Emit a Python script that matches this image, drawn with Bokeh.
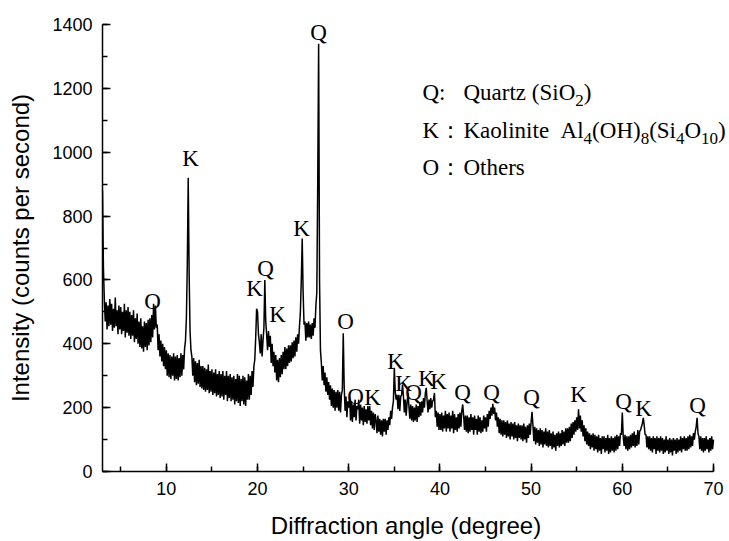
import numpy as np
from bokeh.plotting import figure
from bokeh.models import (ColumnDataSource, LabelSet, Label, Range1d,
                          SingleIntervalTicker)
from bokeh.embed import file_html
from bokeh.resources import INLINE

# Diffraction angle grid (2-theta, degrees), 0.1 degree step
angle_start, angle_step = 3.0, 0.1

# Measured intensity (counts per second), one row per degree
intensity = [
    880, 640, 540, 470, 530, 445, 520, 455, 540, 460,   # 3
    525, 440, 510, 450, 545, 455, 505, 430, 520, 445,   # 4
    515, 430, 500, 440, 525, 420, 505, 435, 515, 425,   # 5
    500, 415, 490, 425, 505, 405, 480, 415, 495, 400,   # 6
    470, 390, 480, 385, 455, 375, 470, 390, 465, 380,   # 7
    475, 395, 480, 405, 490, 420, 525, 445, 520, 450,   # 8
    460, 380, 430, 360, 410, 345, 400, 330, 390, 320,   # 9
    380, 300, 370, 295, 365, 290, 360, 300, 370, 285,   # 10
    360, 290, 365, 285, 355, 295, 370, 300, 365, 320,   # 11
    385, 410, 480, 650, 920, 620, 440, 380, 360, 300,   # 12
    355, 280, 345, 270, 340, 275, 350, 265, 330, 260,   # 13
    330, 255, 325, 250, 320, 255, 335, 245, 315, 250,   # 14
    320, 240, 310, 245, 320, 235, 305, 240, 315, 230,   # 15
    305, 235, 315, 225, 300, 240, 315, 220, 300, 230,   # 16
    305, 220, 295, 225, 300, 210, 290, 220, 305, 215,   # 17
    300, 205, 290, 220, 300, 210, 295, 205, 285, 225,   # 18
    305, 225, 300, 240, 315, 265, 330, 350, 420, 510,   # 19
    500, 430, 405, 370, 430, 360, 410, 450, 600, 470,   # 20
    430, 380, 440, 390, 425, 340, 400, 330, 375, 310,   # 21
    365, 285, 350, 280, 355, 295, 365, 305, 375, 320,   # 22
    390, 320, 385, 330, 395, 340, 395, 345, 405, 355,   # 23
    410, 360, 420, 375, 430, 400, 455, 500, 600, 730,   # 24
    560, 460, 470, 410, 465, 420, 470, 420, 460, 415,   # 25
    465, 425, 480, 450, 520, 560, 900, 1340, 600, 380,  # 26
    340, 285, 330, 270, 310, 250, 295, 240, 280, 225,   # 27
    270, 205, 260, 200, 255, 190, 250, 200, 255, 190,   # 28
    250, 185, 240, 255, 433, 270, 190, 235, 170, 220,   # 29
    200, 235, 160, 220, 155, 210, 170, 225, 160, 205,   # 30
    195, 225, 150, 210, 160, 200, 145, 205, 155, 195,   # 31
    150, 205, 160, 205, 145, 190, 135, 185, 130, 180,   # 32
    160, 120, 175, 125, 165, 115, 160, 110, 165, 125,   # 33
    165, 115, 160, 130, 170, 145, 190, 165, 200, 220,   # 34
    325, 250, 225, 240, 195, 240, 190, 235, 240, 272,   # 35
    235, 185, 225, 175, 215, 246, 205, 165, 210, 160,   # 36
    205, 155, 200, 160, 210, 155, 205, 170, 215, 175,   # 37
    220, 185, 230, 200, 245, 262, 220, 185, 225, 195,   # 38
    230, 200, 220, 225, 246, 170, 190, 140, 185, 130,   # 39
    180, 130, 185, 125, 175, 135, 190, 125, 180, 135,   # 40
    185, 125, 175, 135, 190, 120, 180, 130, 170, 125,   # 41
    180, 135, 185, 140, 190, 210, 175, 130, 175, 125,   # 42
    175, 120, 170, 125, 180, 130, 170, 115, 175, 130,   # 43
    165, 115, 175, 125, 170, 120, 160, 125, 175, 135,   # 44
    170, 125, 180, 140, 190, 165, 200, 175, 212, 180,   # 45
    200, 160, 185, 140, 170, 120, 165, 115, 160, 110,   # 46
    160, 115, 155, 105, 160, 110, 150, 100, 155, 110,   # 47
    150, 100, 155, 105, 145, 95, 150, 105, 145, 100,    # 48
    145, 95, 150, 100, 140, 90, 145, 105, 150, 115,     # 49
    155, 187, 145, 95, 140, 85, 135, 90, 130, 80,       # 50
    135, 85, 130, 75, 125, 85, 135, 80, 125, 75,        # 51
    130, 80, 120, 70, 125, 75, 115, 65, 120, 80,        # 52
    125, 75, 120, 80, 130, 85, 125, 80, 135, 90,        # 53
    135, 90, 140, 95, 150, 105, 155, 115, 160, 125,     # 54
    170, 130, 195, 135, 175, 125, 160, 110, 145, 95,    # 55
    135, 85, 125, 80, 120, 70, 115, 75, 120, 65,        # 56
    115, 70, 110, 60, 115, 65, 105, 55, 110, 70,        # 57
    110, 60, 105, 65, 115, 55, 105, 60, 110, 65,        # 58
    105, 60, 110, 65, 115, 70, 110, 80, 120, 115,       # 59
    185, 110, 80, 115, 70, 110, 65, 110, 70, 115,       # 60
    75, 120, 80, 125, 75, 115, 80, 130, 85, 125,        # 61
    130, 140, 150, 168, 145, 115, 115, 75, 110, 70,     # 62
    110, 65, 105, 60, 110, 70, 105, 55, 110, 65,        # 63
    105, 60, 110, 65, 105, 55, 100, 60, 110, 65,        # 64
    100, 55, 105, 60, 100, 50, 105, 65, 100, 55,        # 65
    105, 60, 100, 65, 110, 60, 105, 70, 110, 65,        # 66
    105, 65, 110, 70, 115, 75, 110, 80, 120, 100,       # 67
    125, 140, 168, 120, 110, 70, 110, 65, 105, 60,      # 68
    105, 65, 110, 70, 100, 60, 105, 65, 110, 70,        # 69
    100,                                                # 70
]

# Phase identification marks above the peaks
peak_marks = ["O", "K", "K", "Q", "K", "K", "Q", "O", "O", "K", "K", "K",
              "Q", "K", "K", "Q", "Q", "Q", "K", "Q", "K", "Q"]
peak_mark_angle = [8.5, 12.65, 19.67, 20.87, 22.19, 24.82, 26.68, 29.64,
                   30.74, 32.6, 35.13, 36.0, 37.1, 38.53, 39.84, 42.47,
                   45.65, 50.04, 55.2, 60.13, 62.32, 68.24]
peak_mark_height = [531, 981, 572, 637, 491, 762, 1375, 469, 234, 231, 344,
                    275, 247, 291, 281, 247, 247, 231, 241, 219, 197, 206]

# Phase key: symbol, then name as (text, is_subscript) runs
key_symbols = ["Q:", "K：", "O："]
key_names = [
    [("Quartz (SiO", False), ("2", True), (")", False)],
    [("Kaolinite  Al", False), ("4", True), ("(OH)", False), ("8", True),
     ("(Si", False), ("4", True), ("O", False), ("10", True), (")", False)],
    [("Others", False)],
]
key_centers = [1187, 1069, 953]

angle = np.round(angle_start + angle_step * np.arange(len(intensity)), 1)

W, H = 729, 541
LEFT, AXIS_RIGHT, TOP, BOTTOM = 102, 713, 24, 69
X0, X1, Y0, Y1 = 3, 70, 0, 1400
px_per_deg = (AXIS_RIGHT - LEFT) / (X1 - X0)
# the frame runs to the canvas edge so the key text is not cut; the axis
# itself stops at 70 degrees
X_VIEW = X0 + (W - LEFT) / px_per_deg
frame_h = H - TOP - BOTTOM

p = figure(width=W, height=H, output_backend="svg", toolbar_location=None,
           x_range=Range1d(X0, X_VIEW), y_range=Range1d(Y0, Y1),
           min_border_left=LEFT, min_border_right=0, min_border_top=TOP,
           min_border_bottom=BOTTOM)
p.outline_line_color = None
p.xgrid.visible = False
p.ygrid.visible = False
p.background_fill_color = "white"
p.border_fill_color = "white"

p.line(angle, intensity, line_color="black", line_width=1.5)

serif = "Liberation Serif"
sans = "Liberation Sans"
mark_px = 23
sub_px = 17

marks = ColumnDataSource(dict(x=peak_mark_angle, y=peak_mark_height,
                              t=peak_marks))
p.add_layout(LabelSet(x="x", y="y", text="t", source=marks,
                      text_font=serif, text_font_size=f"{mark_px}px",
                      text_align="center", text_baseline="middle",
                      text_color="black"))

# Times-compatible advance widths (per 1000 em) for laying out the key runs
ADV = {" ": 250, "(": 333, ")": 333, "A": 722, "H": 722, "K": 722,
       "O": 722, "Q": 722, "S": 556, "a": 444, "e": 444, "h": 500,
       "i": 278, "l": 278, "n": 500, "o": 500, "r": 333, "s": 389,
       "t": 278, "u": 500, "z": 444}


def run_width(text, size):
    return sum(ADV.get(c, 500) for c in text) * size / 1000.0


sym_px, name_px = 422 - LEFT, 463 - LEFT   # frame-relative x of key columns
sub_drop = 8 * (Y1 - Y0) / frame_h          # subscript shift below centre

for sym, runs, mid in zip(key_symbols, key_names, key_centers):
    p.add_layout(Label(x=sym_px, y=mid, x_units="screen", text=sym,
                       text_font=serif, text_font_size=f"{mark_px}px",
                       text_baseline="middle", text_color="black"))
    cursor = name_px
    for text, is_sub in runs:
        size = sub_px if is_sub else mark_px
        p.add_layout(Label(x=cursor, x_units="screen",
                           y=mid - sub_drop if is_sub else mid,
                           text=text.replace(" ", "\u00a0"),
                           text_font=serif, text_font_size=f"{size}px",
                           text_baseline="middle", text_color="black"))
        cursor += run_width(text, size)

p.xaxis.ticker = SingleIntervalTicker(interval=10, num_minor_ticks=2)
p.yaxis.ticker = SingleIntervalTicker(interval=200, num_minor_ticks=2)
p.xaxis.bounds = (X0, X1)
for ax in (p.xaxis, p.yaxis):
    ax.axis_line_width = 1.5
    ax.axis_line_color = "black"
    ax.major_tick_in = 8
    ax.major_tick_out = 0
    ax.minor_tick_in = 5
    ax.minor_tick_out = 0
    ax.major_tick_line_width = 1.5
    ax.minor_tick_line_width = 1.5
    ax.major_tick_line_color = "black"
    ax.minor_tick_line_color = "black"
    ax.major_label_text_font = sans
    ax.major_label_text_font_size = "18px"
    ax.major_label_text_color = "black"
    ax.axis_label_text_font = sans
    ax.axis_label_text_font_size = "24px"
    ax.axis_label_text_font_style = "normal"
    ax.axis_label_text_color = "black"
    ax.major_label_standoff = 10

# trailing no-break spaces keep the title centred under the 3-70 axis span
p.xaxis.axis_label = "Diffraction angle (degree)\u00a0\u00a0\u00a0"
p.yaxis.axis_label = "Intensity (counts per second)"
p.xaxis.axis_label_standoff = 14
p.yaxis.axis_label_standoff = 15

open("out.html", "w").write(file_html(p, INLINE))
